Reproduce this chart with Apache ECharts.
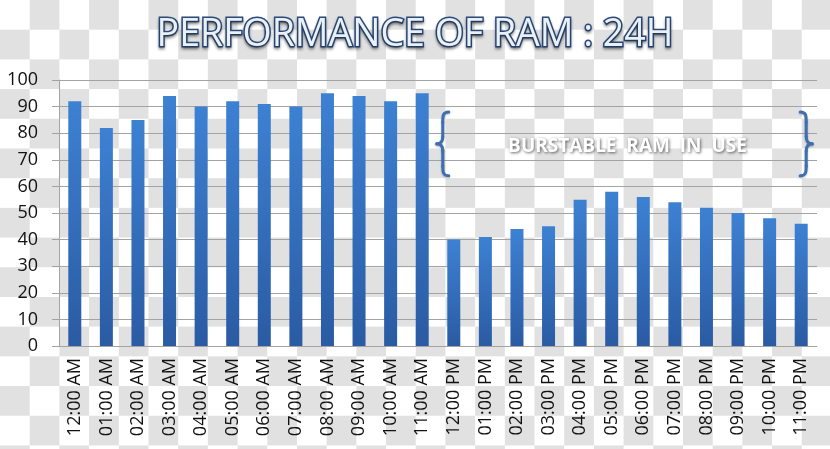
<!DOCTYPE html>
<html>
<head>
<meta charset="utf-8">
<script src="https://cdn.jsdelivr.net/npm/echarts@6/dist/echarts.min.js"></script>
<style>
  html, body { margin: 0; padding: 0; }
  body {
    width: 830px; height: 449px;
    background: repeating-conic-gradient(#e1e1e1 0 25%, #ffffff 0 50%) 0 0 / 59.4px 59.4px;
  }
  #chart { width: 830px; height: 449px; }
</style>
</head>
<body>
<div id="chart"></div>
<script>
const hours = [
  "12:00 AM", "01:00 AM", "02:00 AM", "03:00 AM", "04:00 AM", "05:00 AM",
  "06:00 AM", "07:00 AM", "08:00 AM", "09:00 AM", "10:00 AM", "11:00 AM",
  "12:00 PM", "01:00 PM", "02:00 PM", "03:00 PM", "04:00 PM", "05:00 PM",
  "06:00 PM", "07:00 PM", "08:00 PM", "09:00 PM", "10:00 PM", "11:00 PM"
];
const ramUsage = [
  92, 82, 85, 94, 90, 92, 91, 90, 95, 94, 92, 95,
  40, 41, 44, 45, 55, 58, 56, 54, 52, 50, 48, 46
];
// burst annotation spans the afternoon/evening hours
const burstFrom = "12:00 PM";
const burstTo = "11:00 PM";
const burstRange = [64, 88];
const burstText = "BURSTABLE  RAM  IN  USE";

const chart = echarts.init(document.getElementById("chart"));

const gridColor = "#a3a3a3";
const option = {
  backgroundColor: "transparent",
  animation: false,
  title: {
    text: "PERFORMANCE OF RAM : 24H",
    left: "center",
    top: 11,
    textStyle: {
      fontFamily: "Open Sans",
      fontSize: 37.5,
      fontWeight: "normal",
      color: "#eaf0f8",
      textBorderColor: "#2b4b7a",
      textBorderWidth: 3,
      textShadowColor: "rgba(0,0,0,0.35)",
      textShadowBlur: 3,
      textShadowOffsetY: 2
    }
  },
  grid: { left: 59, right: 13, top: 80, bottom: 103 },
  xAxis: {
    type: "category",
    data: hours,
    axisLine: { lineStyle: { color: gridColor } },
    axisTick: { length: 6, lineStyle: { color: gridColor } },
    axisLabel: {
      rotate: 90,
      margin: 12,
      interval: 0,
      fontFamily: "Open Sans",
      fontSize: 18,
      color: "#111"
    }
  },
  yAxis: {
    type: "value",
    min: 0,
    max: 100,
    interval: 10,
    axisLine: { show: true, lineStyle: { color: gridColor } },
    axisTick: { show: true, length: 7, lineStyle: { color: gridColor } },
    splitLine: { lineStyle: { color: gridColor } },
    axisLabel: {
      margin: 21,
      fontFamily: "Open Sans",
      fontSize: 18,
      color: "#111"
    }
  },
  series: [
    {
      name: "RAM",
      type: "bar",
      data: ramUsage,
      barWidth: 13,
      itemStyle: {
        color: new echarts.graphic.LinearGradient(0, 0, 0, 1, [
          { offset: 0, color: "#3d81d3" },
          { offset: 1, color: "#2a5ba3" }
        ])
      }
    }
  ]
};

chart.setOption(option);

// curly brace built from lines and cubic curves; dir -1 => "{", 1 => "}"
function brace(x, yT, yB, dir, style) {
  const yM = (yT + yB) / 2;
  const d = dir;
  const curve = (x1, y1, c1x, c1y, c2x, c2y, x2, y2) => ({
    type: "bezierCurve",
    shape: { x1, y1, cpx1: c1x, cpy1: c1y, cpx2: c2x, cpy2: c2y, x2, y2 },
    style
  });
  const line = (x1, y1, x2, y2) => ({ type: "line", shape: { x1, y1, x2, y2 }, style });
  return [
    curve(x - 6 * d, yT, x, yT, x, yT + 4, x, yT + 10),
    line(x, yT + 10, x, yM - 7),
    curve(x, yM - 7, x, yM - 2, x + 2 * d, yM, x + 6 * d, yM),
    curve(x + 6 * d, yM, x + 2 * d, yM, x, yM + 2, x, yM + 7),
    line(x, yM + 7, x, yB - 10),
    curve(x, yB - 10, x, yB - 4, x, yB, x - 6 * d, yB)
  ];
}

const xL = chart.convertToPixel({ xAxisIndex: 0 }, burstFrom);
const xR = chart.convertToPixel({ xAxisIndex: 0 }, burstTo);
const yT = chart.convertToPixel({ yAxisIndex: 0 }, burstRange[1]);
const yB = chart.convertToPixel({ yAxisIndex: 0 }, burstRange[0]);
const braceStyle = { stroke: "#3f6fb3", lineWidth: 3, fill: null, lineCap: "round",
  shadowColor: "rgba(0,0,0,0.25)", shadowBlur: 2, shadowOffsetY: 1 };

chart.setOption({
  graphic: [
    ...brace(xL - 11, yT, yB, -1, braceStyle),
    ...brace(xR + 5, yT, yB, 1, braceStyle),
    {
      type: "text",
      x: (xL + xR) / 2,
      y: (yT + yB) / 2 + 3,
      style: {
        text: burstText,
        align: "center",
        verticalAlign: "middle",
        fontFamily: "Open Sans",
        fontWeight: "bold",
        fontSize: 19,
        fill: "#ffffff",
        textShadowColor: "rgba(0,0,0,0.6)",
        textShadowBlur: 3,
        textShadowOffsetX: 1,
        textShadowOffsetY: 1
      }
    }
  ]
});
</script>
</body>
</html>
